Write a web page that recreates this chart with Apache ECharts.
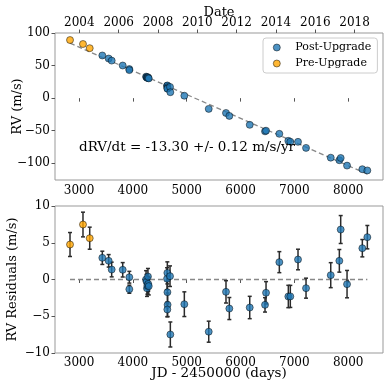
<!DOCTYPE html>
<html>
<head>
<meta charset="utf-8">
<script src="https://cdn.jsdelivr.net/npm/echarts@6/dist/echarts.min.js"></script>
<style>
html, body { margin: 0; padding: 0; background: #fff; }
#chart { width: 390px; height: 390px; }
</style>
</head>
<body>
<div id="chart"></div>
<script>
// data (JD - 2450000)
var preJD = [2832, 3073, 3198];
var preRV = [89.2, 83.1, 76.7];
var preRes = [4.76, 7.48, 5.62];
var preErr = [1.63, 1.68, 1.5];

var postJD = [3432, 3550, 3606, 3811, 3934, 3934, 4245, 4255, 4262, 4270, 4280, 4285, 4295,
	4635, 4640, 4642, 4645, 4640, 4690, 4696, 4956, 5409, 5730, 5792, 6171, 6455, 6474, 6721,
	6888, 6925, 7068, 7217, 7676, 7836, 7861, 7979, 8263, 8356];
var postRV = [65.5, 60.8, 57.6, 50.1, 44.6, 43.0, 33.0, 32.3, 31.2, 31.3, 32.1, 30.9, 30.3,
	18.9, 19.5, 16.8, 15.0, 14.5, 17.2, 9.1, 3.7, -16.5, -22.8, -27.3, -41.0, -51.0, -50.0, -54.8,
	-65.6, -66.9, -67.1, -76.4, -91.4, -95.3, -91.9, -103.6, -109.1, -111.0];
var postRes = [2.95, 2.54, 1.36, 1.32, 0.31, -1.32, 0.0, -0.3, -1.2, -0.8, 0.4, -0.6, -0.9,
	0.1, 0.9, -1.72, -3.44, -4.08, 0.45, -7.48, -3.36, -7.1, -1.68, -3.95, -3.81, -3.45, -1.81, 2.36,
	-2.31, -2.3, 2.72, -1.18, 0.59, 2.54, 6.8, -0.63, 4.26, 5.76];
var postErr = [0.9, 0.85, 1.0, 0.98, 0.8, 0.55, 1.2, 1.0, 1.1, 1.2, 1.1, 1.0, 1.2,
	1.5, 1.5, 1.6, 1.6, 1.0, 1.4, 1.7, 1.68, 1.43, 1.52, 1.5, 1.52, 0.98, 1.52, 1.43,
	1.52, 1.5, 1.4, 1.36, 1.7, 1.54, 1.9, 1.86, 1.18, 1.59];

// linear fit
var fitJD = [2832, 8356];
var fitRV = [84.4, -116.7];
var zeroRes = [0, 0];

// ticks
var jdTicks = [3000, 4000, 5000, 6000, 7000, 8000];
var rvTicks = [-100, -50, 0, 50, 100];
var dateTickJD = [3005.5, 3736.5, 4466.5, 5197.5, 5927.5, 6658.5, 7388.5, 8119.5];
var dateTickLabels = ['2004', '2006', '2008', '2010', '2012', '2014', '2016', '2018'];

var FONT = 'DejaVu Serif';
var BLUE = '#1f77b4';
var ORANGE = '#ffa500';

function zip(a, b, c) {
	var out = [];
	for (var i = 0; i < a.length; i++) {
		out.push(c ? [a[i], b[i], c[i]] : [a[i], b[i]]);
	}
	return out;
}

function plain(v) {
	return String(v).replace('-', '\u2212');
}

function errRender(params, api) {
	var x = api.value(0), y = api.value(1), e = api.value(2);
	var hi = api.coord([x, y + e]);
	var lo = api.coord([x, y - e]);
	var st = { stroke: '#2b2b2b', lineWidth: 1.5 };
	var cap = 2;
	return {
		type: 'group',
		children: [
			{ type: 'line', shape: { x1: hi[0], y1: hi[1], x2: lo[0], y2: lo[1] }, style: st },
			{ type: 'line', shape: { x1: hi[0] - cap, y1: hi[1], x2: hi[0] + cap, y2: hi[1] }, style: st },
			{ type: 'line', shape: { x1: lo[0] - cap, y1: lo[1], x2: lo[0] + cap, y2: lo[1] }, style: st }
		]
	};
}

var tickLabel = { fontFamily: FONT, fontSize: 12, color: '#000' };
var axisTick = { show: true, inside: false, length: 3.5, lineStyle: { color: '#555' } };

var myChart = echarts.init(document.getElementById('chart'));
var option = {
	animation: false,
	backgroundColor: '#fff',
	grid: [
		{ left: 55, top: 33, width: 328, height: 147, outerBoundsMode: 'none', containLabel: false,
			show: true, borderColor: '#999', borderWidth: 1, backgroundColor: 'transparent' },
		{ left: 55, top: 206, width: 328, height: 147, outerBoundsMode: 'none', containLabel: false,
			show: true, borderColor: '#999', borderWidth: 1, backgroundColor: 'transparent' }
	],
	xAxis: [
		{
			type: 'value', gridIndex: 0, min: 2553, max: 8647, position: 'bottom',
			axisLine: { show: false }, splitLine: { show: false },
			axisTick: Object.assign({ customValues: jdTicks }, axisTick),
			axisLabel: Object.assign({ customValues: jdTicks, margin: 5, formatter: plain }, tickLabel)
		},
		{
			type: 'value', gridIndex: 0, min: 2553, max: 8647, position: 'top',
			name: 'Date', nameLocation: 'middle', nameGap: 14, nameMoveOverlap: false,
			nameTextStyle: { fontFamily: FONT, fontSize: 13, color: '#000' },
			axisLine: { show: false }, splitLine: { show: false },
			axisTick: Object.assign({ customValues: dateTickJD }, axisTick),
			axisLabel: Object.assign({
				customValues: dateTickJD, margin: 4,
				formatter: function(v) {
					var i = dateTickJD.indexOf(v);
					return i >= 0 ? dateTickLabels[i] : '';
				}
			}, tickLabel)
		},
		{
			type: 'value', gridIndex: 1, min: 2553, max: 8647, position: 'bottom',
			name: 'JD - 2450000 (days)', nameLocation: 'middle', nameGap: 13.5, nameMoveOverlap: false,
			nameTextStyle: { fontFamily: FONT, fontSize: 13.5, color: '#000' },
			axisLine: { show: false }, splitLine: { show: false },
			axisTick: Object.assign({ customValues: jdTicks }, axisTick),
			axisLabel: Object.assign({ customValues: jdTicks, margin: 4, formatter: plain }, tickLabel)
		}
	],
	yAxis: [
		{
			type: 'value', gridIndex: 0, min: -125.7, max: 100,
			name: 'RV (m/s)', nameLocation: 'middle', nameGap: 31, nameMoveOverlap: false,
			nameTextStyle: { fontFamily: FONT, fontSize: 13, color: '#000' },
			axisLine: { show: false }, splitLine: { show: false },
			axisTick: Object.assign({ customValues: rvTicks }, axisTick),
			axisLabel: Object.assign({ customValues: rvTicks, margin: 5, formatter: plain }, tickLabel)
		},
		{
			type: 'value', gridIndex: 1, min: -10, max: 10, interval: 5,
			name: 'RV Residuals (m/s)', nameLocation: 'middle', nameGap: 36, nameMoveOverlap: false,
			nameTextStyle: { fontFamily: FONT, fontSize: 13, color: '#000' },
			axisLine: { show: false }, splitLine: { show: false },
			axisTick: axisTick,
			axisLabel: Object.assign({ margin: 5, formatter: plain }, tickLabel)
		}
	],
	legend: {
		data: ['Post-Upgrade', 'Pre-Upgrade'],
		orient: 'vertical',
		left: 263, top: 38,
		backgroundColor: '#fff',
		borderColor: '#ccc', borderWidth: 1, borderRadius: 3,
		padding: [4, 6, 4, 10],
		itemGap: 5, itemWidth: 7, itemHeight: 7,
		icon: 'circle',
		itemStyle: { borderWidth: 0.6 },
		textStyle: { fontFamily: FONT, fontSize: 11, color: '#000', padding: [0, 0, 0, 10] }
	},
	graphic: [
		{
			type: 'text', left: 79, top: 140, z: 10,
			style: { text: 'dRV/dt = -13.30 +/- 0.12 m/s/yr', font: '13.5px "DejaVu Serif"', fill: '#000' }
		}
	],
	series: [
		{
			type: 'line', xAxisIndex: 0, yAxisIndex: 0, data: zip(fitJD, fitRV),
			symbol: 'none', silent: true,
			lineStyle: { color: '#888', width: 1.3, type: [5, 3] }, z: 1
		},
		{
			name: 'Post-Upgrade', type: 'scatter', xAxisIndex: 0, yAxisIndex: 0,
			data: zip(postJD, postRV), symbolSize: 7,
			itemStyle: { color: BLUE, borderColor: '#000', borderWidth: 0.6 }, z: 3
		},
		{
			name: 'Pre-Upgrade', type: 'scatter', xAxisIndex: 0, yAxisIndex: 0,
			data: zip(preJD, preRV), symbolSize: 7,
			itemStyle: { color: ORANGE, borderColor: '#000', borderWidth: 0.6 }, z: 3
		},
		{
			type: 'line', xAxisIndex: 2, yAxisIndex: 1, data: zip(fitJD, zeroRes),
			symbol: 'none', silent: true,
			lineStyle: { color: '#888', width: 1.3, type: [5, 3] }, z: 1
		},
		{
			type: 'custom', xAxisIndex: 2, yAxisIndex: 1, renderItem: errRender,
			data: zip(postJD, postRes, postErr), encode: { x: 0, y: 1 }, z: 2, silent: true
		},
		{
			type: 'custom', xAxisIndex: 2, yAxisIndex: 1, renderItem: errRender,
			data: zip(preJD, preRes, preErr), encode: { x: 0, y: 1 }, z: 2, silent: true
		},
		{
			name: 'Post-Upgrade', type: 'scatter', xAxisIndex: 2, yAxisIndex: 1,
			data: zip(postJD, postRes), symbolSize: 7,
			itemStyle: { color: BLUE, borderColor: '#000', borderWidth: 0.6 }, z: 3
		},
		{
			name: 'Pre-Upgrade', type: 'scatter', xAxisIndex: 2, yAxisIndex: 1,
			data: zip(preJD, preRes), symbolSize: 7,
			itemStyle: { color: ORANGE, borderColor: '#000', borderWidth: 0.6 }, z: 3
		}
	]
};
myChart.setOption(option);
</script>
</body>
</html>
